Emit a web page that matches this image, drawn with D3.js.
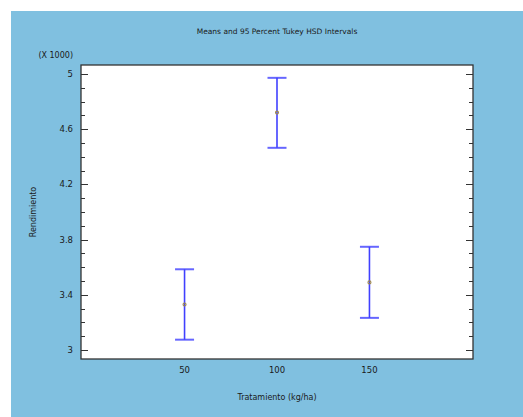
<!DOCTYPE html>
<html lang="en">
<head>
  <meta charset="UTF-8">
  <title>Means and 95 Percent Tukey HSD Intervals</title>
  <script src="https://d3js.org/d3.v7.min.js"></script>
  <style>
    body { margin: 0; background: #fff; }
    text { font-family: "DejaVu Sans", sans-serif; fill: #1a1a1a; }
  </style>
</head>
<body>
  <script>
    // data
    const categories = ["50", "100", "150"];
    const means = [3330, 4720, 3490];
    const lower = [3075, 4465, 3233];
    const upper = [3585, 4972, 3748];
    const majorTicks = [3000, 3400, 3800, 4200, 4600, 5000];
    const minorTicks = d3.range(3000, 5001, 100);

    const W = 523, H = 417;
    const box = { left: 81, top: 65, right: 473, bottom: 359 };

    const svg = d3.select("body").append("svg")
      .attr("width", W)
      .attr("height", H);

    // blue panel
    svg.append("rect")
      .attr("x", 11).attr("y", 11)
      .attr("width", W - 11).attr("height", H - 11)
      .attr("fill", "#80c0e0");

    // plot area
    svg.append("rect")
      .attr("x", box.left).attr("y", box.top)
      .attr("width", box.right - box.left)
      .attr("height", box.bottom - box.top)
      .attr("fill", "#fff");

    const x = d3.scalePoint()
      .domain(categories)
      .range([box.left, box.right])
      .padding(1.12);

    const y = d3.scaleLinear()
      .domain([2935, 5065])
      .range([box.bottom, box.top]);

    // ticks on both sides, pointing inward
    const tickG = svg.append("g").attr("stroke", "#333").attr("stroke-width", 1);
    tickG.selectAll(".tl").data(minorTicks).enter().append("line")
      .attr("x1", box.left).attr("x2", d => box.left + (majorTicks.includes(d) ? 7 : 4))
      .attr("y1", d => Math.round(y(d)) + 0.5).attr("y2", d => Math.round(y(d)) + 0.5);
    tickG.selectAll(".tr").data(minorTicks).enter().append("line")
      .attr("x1", box.right).attr("x2", d => box.right - (majorTicks.includes(d) ? 7 : 4))
      .attr("y1", d => Math.round(y(d)) + 0.5).attr("y2", d => Math.round(y(d)) + 0.5);

    // y tick labels
    svg.selectAll(".ylab").data(majorTicks).enter().append("text")
      .attr("x", box.left - 8)
      .attr("y", d => y(d) + 3)
      .attr("text-anchor", "end")
      .attr("font-size", "8.5px")
      .text(d => d3.format("~g")(d / 1000));

    // x tick labels
    svg.selectAll(".xlab").data(categories).enter().append("text")
      .attr("x", d => x(d))
      .attr("y", 373)
      .attr("text-anchor", "middle")
      .attr("font-size", "8.5px")
      .text(d => d);

    // box border
    svg.append("rect")
      .attr("x", box.left).attr("y", box.top)
      .attr("width", box.right - box.left)
      .attr("height", box.bottom - box.top)
      .attr("fill", "none")
      .attr("stroke", "#333")
      .attr("stroke-width", 1.3);

    // interval bars
    const bars = svg.append("g").attr("stroke", "#4040ff");
    categories.forEach((c, i) => {
      const cx = x(c);
      bars.append("line")
        .attr("x1", cx).attr("x2", cx)
        .attr("y1", y(upper[i])).attr("y2", y(lower[i]))
        .attr("stroke-width", 1.6);
      [upper[i], lower[i]].forEach(v => {
        bars.append("line")
          .attr("x1", cx - 9.5).attr("x2", cx + 9.5)
          .attr("y1", y(v)).attr("y2", y(v))
          .attr("stroke-width", 2)
          .attr("stroke-opacity", 0.8);
      });
    });

    // means
    svg.selectAll(".mean").data(means).enter().append("circle")
      .attr("cx", (d, i) => x(categories[i]))
      .attr("cy", d => y(d))
      .attr("r", 1.5)
      .attr("fill", "none")
      .attr("stroke", "#a08a4a")
      .attr("stroke-width", 1.1);

    // titles
    svg.append("text")
      .attr("x", 277).attr("y", 34)
      .attr("text-anchor", "middle")
      .attr("font-size", "7.5px")
      .text("Means and 95 Percent Tukey HSD Intervals");

    svg.append("text")
      .attr("x", 73).attr("y", 58)
      .attr("text-anchor", "end")
      .attr("font-size", "8px")
      .text("(X 1000)");

    svg.append("text")
      .attr("x", 277).attr("y", 400)
      .attr("text-anchor", "middle")
      .attr("font-size", "8px")
      .text("Tratamiento (kg/ha)");

    svg.append("text")
      .attr("transform", "translate(36,212) rotate(-90)")
      .attr("text-anchor", "middle")
      .attr("font-size", "8px")
      .text("Rendimiento");
  </script>
</body>
</html>
